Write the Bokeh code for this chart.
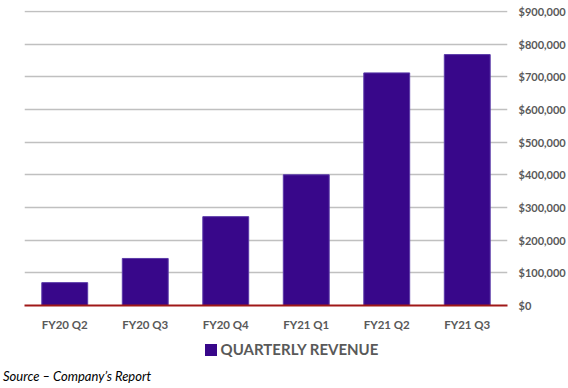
from bokeh.plotting import figure
from bokeh.models import (FactorRange, NumeralTickFormatter, FixedTicker, Range1d,
                          ColumnDataSource, Div)
from bokeh.layouts import column
from bokeh.embed import file_html
from bokeh.resources import INLINE

quarters = ["FY20 Q2", "FY20 Q3", "FY20 Q4", "FY21 Q1", "FY21 Q2", "FY21 Q3"]
revenue = [70000, 144000, 272000, 400000, 712000, 768000]
y_ticks = [0, 100000, 200000, 300000, 400000, 500000, 600000, 700000, 800000, 900000]
series_name = "QUARTERLY REVENUE"
source_note = "Source \u2013 Company\u2019s Report"

FONT = "Lato"
GRAY = "#595959"
BAR = "#38078a"

src = ColumnDataSource(data=dict(q=quarters, v=revenue))

p = figure(x_range=FactorRange(*quarters), y_range=Range1d(0, 903000),
           width=568, height=333, output_backend="svg", toolbar_location=None,
           y_axis_location="right", min_border_top=10, min_border_left=24,
           min_border_right=0, min_border_bottom=0)
p.outline_line_color = None
p.background_fill_color = "white"
p.border_fill_color = "white"

r = p.vbar(x="q", top="v", width=0.57, source=src, fill_color=BAR,
           line_color="#5a3aa8", line_width=1)

p.x_range.range_padding = 0
p.xgrid.grid_line_color = None
p.ygrid.grid_line_color = "#c0c0c0"
p.ygrid.grid_line_width = 1.3

ya = p.yaxis[0]
ya.ticker = FixedTicker(ticks=y_ticks)
ya.formatter = NumeralTickFormatter(format="$0,0")
ya.axis_line_color = None
ya.major_tick_line_color = None
ya.minor_tick_line_color = None
ya.major_label_standoff = 5
ya.major_label_text_font = FONT
ya.major_label_text_font_style = "bold"
ya.major_label_text_font_size = "11px"
ya.major_label_text_color = GRAY

xa = p.xaxis[0]
xa.axis_line_color = "#a01818"
xa.axis_line_width = 2
xa.major_tick_line_color = None
xa.minor_tick_line_color = None
xa.major_label_standoff = 6
xa.major_label_text_font = FONT
xa.major_label_text_font_style = "bold"
xa.major_label_text_font_size = "11.5px"
xa.major_label_text_color = GRAY

legend_div = Div(
    text=(f'<div style="width:568px;text-align:center;padding-left:15px;box-sizing:border-box;'
          f'font-family:{FONT};font-weight:bold;font-size:15px;color:{GRAY};line-height:32px;">'
          f'<span style="display:inline-block;width:12px;height:12px;background:{BAR};'
          f'vertical-align:-1px;margin-right:4px;"></span>{series_name}</div>'),
    width=568, height=32, margin=0)

foot_div = Div(
    text=(f'<div style="font-family:{FONT};font-style:italic;font-size:13px;color:#000;'
          f'line-height:23px;padding-left:3px;">{source_note}</div>'),
    width=568, height=23, margin=0)

layout = column(p, legend_div, foot_div, spacing=0)

open("out.html", "w").write(file_html(layout, INLINE))
